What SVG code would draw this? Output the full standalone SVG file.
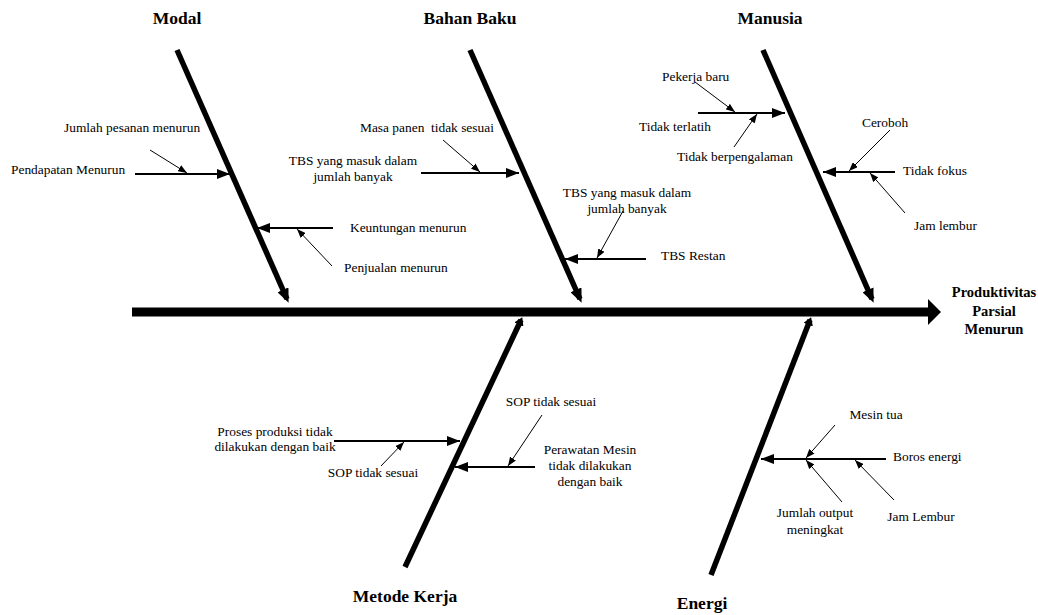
<svg xmlns="http://www.w3.org/2000/svg" width="1038" height="615" viewBox="0 0 1038 615">
<style>
.t{font-family:"Liberation Serif","Times New Roman",serif;font-size:13.4px;fill:#000}
.h{font-family:"Liberation Serif","Times New Roman",serif;font-size:17.5px;font-weight:bold;fill:#000}
.e{font-family:"Liberation Serif","Times New Roman",serif;font-size:14.5px;font-weight:bold;fill:#000}
.bone{stroke:#000;stroke-width:5.5;fill:none}
.ub{marker-end:url(#bh)}
.lb{marker-end:url(#sh)}
.br{stroke:#000;stroke-width:2;fill:none;marker-end:url(#ah)}
.th{stroke:#000;stroke-width:1;fill:none;marker-end:url(#th)}
</style>
<defs>
<marker id="bh" markerUnits="userSpaceOnUse" markerWidth="14" markerHeight="12" refX="10" refY="6" orient="auto"><path d="M0,0 L14,6 L0,12 z" fill="#000"/></marker>
<marker id="sh" markerUnits="userSpaceOnUse" markerWidth="8" markerHeight="10" refX="5" refY="5" orient="auto"><path d="M0,0 L8,5 L0,10 z" fill="#000"/></marker>
<marker id="ah" markerUnits="userSpaceOnUse" markerWidth="13" markerHeight="10" refX="13" refY="5" orient="auto"><path d="M0,0 L13,5 L0,10 z" fill="#000"/></marker>
<marker id="th" markerUnits="userSpaceOnUse" markerWidth="9" markerHeight="7" refX="9" refY="3.5" orient="auto"><path d="M0,0 L9,3.5 L0,7 z" fill="#000"/></marker>
</defs>
<rect width="1038" height="615" fill="#fff"/>

<g id="connectors">
<line x1="132" y1="312" x2="929" y2="312" stroke="#000" stroke-width="9"/>
<path d="M928,299 L941,312 L928,325 z" fill="#000"/>
<line class="bone ub" x1="177" y1="50" x2="287" y2="299"/>
<line class="bone ub" x1="470" y1="50" x2="580" y2="299"/>
<line class="bone ub" x1="763" y1="50" x2="872" y2="299"/>
<line class="bone lb" x1="405" y1="567" x2="521" y2="320"/>
<line class="bone lb" x1="711" y1="575" x2="810" y2="320"/>
<!-- Modal -->
<line class="br" x1="135" y1="174" x2="230" y2="174"/>
<line class="th" x1="150" y1="150" x2="187" y2="173"/>
<line class="br" x1="333" y1="228" x2="257" y2="228"/>
<line class="th" x1="332" y1="266" x2="297" y2="229"/>
<!-- Bahan Baku -->
<line class="br" x1="421" y1="173" x2="519" y2="173"/>
<line class="th" x1="443" y1="140" x2="480" y2="172"/>
<line class="br" x1="646" y1="259" x2="565" y2="259"/>
<line class="th" x1="623" y1="211" x2="597" y2="258"/>
<!-- Manusia -->
<line class="br" x1="698" y1="113" x2="785" y2="113"/>
<line class="th" x1="695" y1="82" x2="735" y2="112"/>
<line class="th" x1="734" y1="147" x2="757" y2="114"/>
<line class="br" x1="895" y1="172" x2="823" y2="172"/>
<line class="th" x1="890" y1="130" x2="849" y2="171"/>
<line class="th" x1="905" y1="213" x2="870" y2="173"/>
<!-- Metode Kerja -->
<line class="br" x1="334" y1="441" x2="460" y2="441"/>
<line class="th" x1="381" y1="466" x2="404" y2="442"/>
<line class="br" x1="535" y1="467" x2="455" y2="467"/>
<line class="th" x1="542" y1="415" x2="508" y2="466"/>
<!-- Energi -->
<line class="br" x1="886" y1="459" x2="761" y2="459"/>
<line class="th" x1="835" y1="425" x2="806" y2="458"/>
<line class="th" x1="842" y1="502" x2="806" y2="460"/>
<line class="th" x1="894" y1="500" x2="855" y2="460"/>
</g>

<g id="effect">
<text class="e" x="994" y="297" text-anchor="middle">Produktivitas</text>
<text class="e" x="994" y="316" text-anchor="middle">Parsial</text>
<text class="e" x="994" y="334" text-anchor="middle">Menurun</text>
</g>

<g id="cat-modal">
<text class="h" x="177" y="24" text-anchor="middle">Modal</text>
</g>
<g id="cat-bahan-baku">
<text class="h" x="470" y="24" text-anchor="middle">Bahan Baku</text>
</g>
<g id="cat-manusia">
<text class="h" x="770" y="24" text-anchor="middle">Manusia</text>
</g>
<g id="cat-metode-kerja">
<text class="h" x="405" y="602" text-anchor="middle">Metode Kerja</text>
</g>
<g id="cat-energi">
<text class="h" x="702" y="609" text-anchor="middle">Energi</text>
</g>

<g id="modal-causes">
<text class="t" x="64" y="132">Jumlah pesanan menurun</text>
<text class="t" x="11" y="174">Pendapatan Menurun</text>
<text class="t" x="350" y="232">Keuntungan menurun</text>
<text class="t" x="344" y="272">Penjualan menurun</text>
</g>
<g id="bahan-baku-causes">
<text class="t" x="360" y="132" xml:space="preserve">Masa panen  tidak sesuai</text>
<text class="t" x="353" y="165" text-anchor="middle">TBS yang masuk dalam</text>
<text class="t" x="353" y="181" text-anchor="middle">jumlah banyak</text>
<text class="t" x="627" y="197" text-anchor="middle">TBS yang masuk dalam</text>
<text class="t" x="627" y="213" text-anchor="middle">jumlah banyak</text>
<text class="t" x="661" y="260">TBS Restan</text>
</g>
<g id="manusia-causes">
<text class="t" x="662" y="81">Pekerja baru</text>
<text class="t" x="639" y="131">Tidak terlatih</text>
<text class="t" x="677" y="161">Tidak berpengalaman</text>
<text class="t" x="862" y="127">Ceroboh</text>
<text class="t" x="903" y="175">Tidak fokus</text>
<text class="t" x="914" y="230">Jam lembur</text>
</g>
<g id="metode-kerja-causes">
<text class="t" x="275" y="436" text-anchor="middle">Proses produksi tidak</text>
<text class="t" x="275" y="451" text-anchor="middle">dilakukan dengan baik</text>
<text class="t" x="373" y="477" text-anchor="middle">SOP tidak sesuai</text>
<text class="t" x="551" y="406" text-anchor="middle">SOP tidak sesuai</text>
<text class="t" x="590" y="454" text-anchor="middle">Perawatan Mesin</text>
<text class="t" x="590" y="470" text-anchor="middle">tidak dilakukan</text>
<text class="t" x="590" y="486" text-anchor="middle">dengan baik</text>
</g>
<g id="energi-causes">
<text class="t" x="876" y="419" text-anchor="middle">Mesin tua</text>
<text class="t" x="893" y="461">Boros energi</text>
<text class="t" x="815" y="517" text-anchor="middle">Jumlah output</text>
<text class="t" x="815" y="534" text-anchor="middle">meningkat</text>
<text class="t" x="921" y="521" text-anchor="middle">Jam Lembur</text>
</g>
</svg>
